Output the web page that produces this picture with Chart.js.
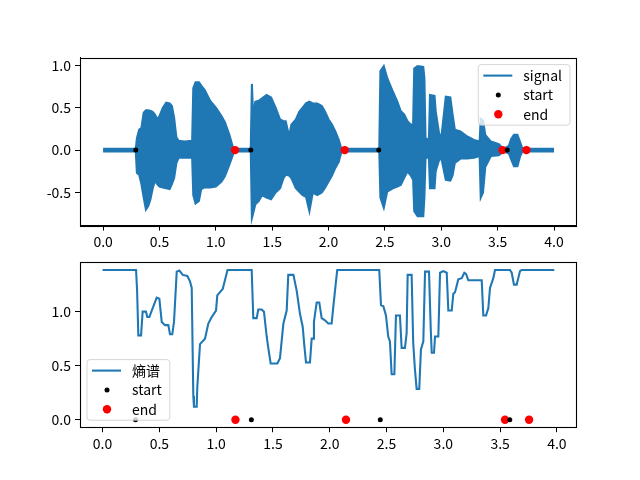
<!DOCTYPE html>
<html>
<head>
<meta charset="utf-8">
<script src="https://cdn.jsdelivr.net/npm/chart.js@4/dist/chart.umd.min.js"></script>
<style>
  html, body { margin: 0; padding: 0; background: #fff; }
  #wrap { position: relative; width: 640px; height: 480px; }
  canvas { position: absolute; left: 0; }
  #top { top: 0; }
  #bottom { top: 250px; }
</style>
</head>
<body>
<div id="wrap">
  <canvas id="top" width="640" height="250"></canvas>
  <canvas id="bottom" width="640" height="230"></canvas>
</div>
<script>
// signal envelope, seconds
const sigTime  = [0.00, 0.10, 0.20, 0.29, 0.30, 0.32, 0.34, 0.36, 0.38, 0.40, 0.42, 0.44, 0.46, 0.48, 0.50, 0.53, 0.56, 0.59, 0.61, 0.63, 0.65, 0.67, 0.72, 0.79,
                  0.80, 0.82, 0.85, 0.87, 0.90, 0.95, 1.00, 1.05, 1.08, 1.12, 1.15, 1.16, 1.25, 1.31,
                  1.32, 1.33, 1.35, 1.38, 1.41, 1.45, 1.49, 1.53, 1.57, 1.60, 1.62, 1.65, 1.67, 1.71, 1.74, 1.77, 1.80, 1.83, 1.86, 1.90, 1.94, 1.97, 2.00, 2.03, 2.06, 2.09, 2.11, 2.12, 2.30, 2.45,
                  2.46, 2.49, 2.52, 2.57, 2.61, 2.64, 2.67, 2.70, 2.73, 2.75, 2.76, 2.79, 2.84, 2.85, 2.86, 2.89, 2.90, 2.94, 2.95, 2.98, 3.00, 3.04, 3.08, 3.10, 3.12, 3.17, 3.23, 3.29, 3.34,
                  3.35, 3.37, 3.39, 3.44, 3.51, 3.55, 3.60, 3.62, 3.645, 3.675, 3.70, 3.72, 3.85, 4.00];
const sigUpper = [0.015, 0.015, 0.015, 0.015, 0.14, 0.24, 0.26, 0.44, 0.47, 0.47, 0.46, 0.45, 0.42, 0.36, 0.40, 0.50, 0.56, 0.55, 0.52, 0.38, 0.15, 0.11, 0.10, 0.11,
                  0.73, 0.80, 0.80, 0.76, 0.71, 0.58, 0.50, 0.40, 0.33, 0.18, 0.04, 0.015, 0.015, 0.015,
                  0.78, 0.40, 0.57, 0.58, 0.61, 0.65, 0.62, 0.50, 0.36, 0.34, 0.34, 0.16, 0.30, 0.36, 0.45, 0.50, 0.55, 0.57, 0.55, 0.55, 0.52, 0.45, 0.36, 0.30, 0.22, 0.12, 0.03, 0.015, 0.015, 0.015,
                  0.93, 0.99, 0.85, 0.69, 0.57, 0.46, 0.42, 0.34, 0.30, 0.30, 0.96, 0.99, 0.98, 0.85, 0.14, 0.12, 0.65, 0.64, 0.46, 0.20, 0.14, 0.63, 0.62, 0.42, 0.24, 0.22, 0.16, 0.12, 0.10,
                  0.37, 0.35, 0.18, 0.10, 0.07, 0.015, 0.05, 0.13, 0.18, 0.18, 0.09, 0.015, 0.015, 0.015];
const sigLower = [-0.015, -0.015, -0.015, -0.015, -0.27, -0.29, -0.40, -0.56, -0.70, -0.66, -0.58, -0.45, -0.36, -0.40, -0.43, -0.44, -0.45, -0.46, -0.40, -0.33, -0.15, -0.09, -0.09, -0.09,
                  -0.53, -0.63, -0.60, -0.46, -0.44, -0.44, -0.43, -0.37, -0.31, -0.17, -0.06, -0.015, -0.015, -0.015,
                  -0.80, -0.75, -0.64, -0.60, -0.53, -0.56, -0.58, -0.50, -0.45, -0.33, -0.29, -0.30, -0.33, -0.45, -0.49, -0.53, -0.55, -0.72, -0.50, -0.53, -0.50, -0.44, -0.37, -0.30, -0.21, -0.14, -0.04, -0.015, -0.015, -0.015,
                  -0.56, -0.68, -0.49, -0.45, -0.43, -0.41, -0.33, -0.25, -0.30, -0.35, -0.72, -0.78, -0.78, -0.56, -0.09, -0.09, -0.45, -0.45, -0.25, -0.12, -0.09, -0.35, -0.36, -0.30, -0.15, -0.10, -0.10, -0.09, -0.07,
                  -0.56, -0.50, -0.20, -0.07, -0.06, -0.015, -0.04, -0.11, -0.19, -0.19, -0.07, -0.015, -0.015, -0.015];

// entropy spectrum
const entTime  = [0.000, 0.295, 0.304, 0.315, 0.339, 0.353, 0.382, 0.394, 0.412, 0.433, 0.477, 0.500, 0.521, 0.550, 0.579, 0.594, 0.614, 0.629, 0.653, 0.676, 0.706, 0.746, 0.770, 0.785,
                  0.799, 0.805, 0.829, 0.834, 0.858, 0.902, 0.931, 0.961, 0.999, 1.010, 1.034, 1.058, 1.100, 1.313, 1.327, 1.357, 1.371, 1.401, 1.421, 1.445, 1.459, 1.480, 1.539, 1.562,
                  1.592, 1.621, 1.635, 1.680, 1.709, 1.738, 1.762, 1.776, 1.791, 1.826, 1.841, 1.855, 1.861, 1.885, 1.908, 1.929, 1.958, 1.987, 2.017, 2.031, 2.046, 2.066, 2.436, 2.451,
                  2.472, 2.495, 2.515, 2.530, 2.545, 2.569, 2.583, 2.618, 2.633, 2.662, 2.677, 2.686, 2.721, 2.735, 2.750, 2.765, 2.788, 2.803, 2.824, 2.839, 2.874, 2.889, 2.898, 2.918,
                  2.927, 2.956, 2.971, 3.000, 3.030, 3.044, 3.074, 3.088, 3.103, 3.132, 3.162, 3.185, 3.200, 3.220, 3.338, 3.352, 3.376, 3.396, 3.411, 3.440, 3.455, 3.587, 3.602, 3.622,
                  3.646, 3.675, 3.690, 3.977];
const entValue = [1.386, 1.386, 1.20, 0.78, 0.78, 1.00, 1.00, 0.95, 0.95, 1.01, 1.13, 1.12, 0.905, 0.875, 0.875, 0.79, 0.79, 0.905, 1.37, 1.38, 1.34, 1.33, 1.28, 1.22,
                  0.22, 0.12, 0.12, 0.30, 0.70, 0.75, 0.89, 0.95, 1.01, 1.15, 1.18, 1.21, 1.386, 1.386, 0.94, 0.94, 1.02, 1.02, 1.00, 0.77, 0.665, 0.52, 0.52, 0.57,
                  0.89, 1.01, 1.34, 1.34, 1.195, 0.98, 0.86, 0.69, 0.53, 0.53, 0.75, 0.75, 0.905, 1.085, 1.085, 0.94, 0.92, 0.89, 0.89, 1.04, 1.19, 1.386, 1.386, 1.06,
                  1.05, 0.965, 0.77, 0.725, 0.42, 0.42, 0.965, 0.965, 0.665, 0.665, 0.80, 1.34, 1.34, 0.71, 0.465, 0.285, 0.285, 0.65, 0.725, 1.37, 1.37, 0.845, 0.62, 0.62,
                  0.77, 0.77, 1.36, 1.375, 1.36, 1.01, 1.01, 1.165, 1.18, 1.30, 1.31, 1.36, 1.35, 1.29, 1.29, 0.965, 0.965, 1.03, 1.22, 1.31, 1.386, 1.386, 1.36, 1.25,
                  1.25, 1.375, 1.386, 1.386];

const startTimes = [0.29, 1.31, 2.445, 3.585];
const endTimes   = [1.17, 2.143, 3.543, 3.755];

const xTicks = [0, 0.5, 1, 1.5, 2, 2.5, 3, 3.5, 4];
const yTicksTop = [-0.5, 0, 0.5, 1];
const yTicksBottom = [0, 0.5, 1];

const BLUE = '#1f77b4';
const LW = 2.08; // 1.5pt at 100 dpi
const FONT = "'Noto Sans CJK SC', 'DejaVu Sans', sans-serif";

Chart.defaults.font.family = FONT;
Chart.defaults.font.size = 14;
Chart.defaults.color = '#000';

// frame on all four sides + matplotlib style legend inside the axes
const frameLegend = {
  id: 'frameLegend',
  afterDatasetsDraw(chart, args, opts) {
    const { ctx, chartArea: a } = chart;
    ctx.save();
    ctx.strokeStyle = '#000';
    ctx.lineWidth = 1.1;
    ctx.strokeRect(Math.round(a.left) + 0.5, Math.round(a.top) + 0.5, Math.round(a.right - a.left), Math.round(a.bottom - a.top));

    const items = chart.data.datasets.filter(d => d.label);
    ctx.font = '14px ' + FONT;
    const textW = Math.max(...items.map(d => ctx.measureText(d.label).width));
    const w = 45 + textW + 8;
    const rowH = 19.3;
    const h = 22 + (items.length - 1) * rowH;
    const x = opts.corner === 'ur' ? a.right - 6 - w : a.left + 7;
    const y = opts.corner === 'ur' ? a.top + 7 : a.bottom - 7 - h;

    ctx.beginPath();
    ctx.roundRect(x, y, w, h, 3);
    ctx.fillStyle = 'rgba(255,255,255,0.8)';
    ctx.fill();
    ctx.lineWidth = 1;
    ctx.strokeStyle = 'rgba(204,204,204,0.8)';
    ctx.stroke();

    items.forEach((d, i) => {
      const cy = y + 11 + i * rowH;
      if (d.showLine === false) {
        ctx.beginPath();
        ctx.arc(x + 20, cy, d.pointRadius, 0, Math.PI * 2);
        ctx.fillStyle = d.pointBackgroundColor;
        ctx.fill();
      } else {
        ctx.beginPath();
        ctx.moveTo(x + 5, cy);
        ctx.lineTo(x + 34, cy);
        ctx.strokeStyle = d.borderColor;
        ctx.lineWidth = LW;
        ctx.stroke();
      }
      ctx.fillStyle = '#000';
      ctx.textAlign = 'left';
      ctx.textBaseline = 'middle';
      ctx.fillText(d.label, x + 45, cy);
    });
    ctx.restore();
  }
};

function axes(xMin, xMax, yMin, yMax, yTicks, xHeight) {
  const tickStyle = { drawOnChartArea: false, drawTicks: true, tickLength: 5, tickColor: '#000', tickWidth: 1 };
  return {
    x: {
      type: 'linear', min: xMin, max: xMax,
      grid: tickStyle,
      border: { display: true, color: '#000', width: 1 },
      ticks: { padding: 3, maxRotation: 0, callback: v => v.toFixed(1) },
      afterBuildTicks: s => { s.ticks = xTicks.map(v => ({ value: v })); },
      afterFit: s => { s.height = xHeight; }
    },
    y: {
      type: 'linear', min: yMin, max: yMax,
      grid: tickStyle,
      border: { display: true, color: '#000', width: 1 },
      ticks: { padding: 4, callback: v => v.toFixed(1) },
      afterBuildTicks: s => { s.ticks = yTicks.map(v => ({ value: v })); },
      afterFit: s => { s.width = 80; }
    }
  };
}

function markerSets(yVal) {
  return [
    {
      label: 'start',
      data: startTimes.map(t => ({ x: t, y: yVal })),
      showLine: false, pointRadius: 2.5, pointBackgroundColor: '#000', pointBorderWidth: 0,
      order: 0
    },
    {
      label: 'end',
      data: endTimes.map(t => ({ x: t, y: yVal })),
      showLine: false, pointRadius: 4.2, pointBackgroundColor: '#ff0000', pointBorderWidth: 0,
      order: 1
    }
  ];
}

new Chart(document.getElementById('top'), {
  type: 'line',
  data: {
    datasets: [
      {
        label: 'signal',
        data: sigTime.map((t, i) => ({ x: t, y: sigUpper[i] })),
        borderColor: BLUE, borderWidth: LW, pointRadius: 0, fill: false, order: 2
      },
      {
        data: sigTime.map((t, i) => ({ x: t, y: sigLower[i] })),
        borderColor: BLUE, backgroundColor: BLUE, borderWidth: LW, pointRadius: 0, fill: '-1', order: 2
      },
      ...markerSets(0)
    ]
  },
  options: {
    responsive: false,
    animation: false,
    events: [],
    layout: { padding: { top: 57.6, right: 64, left: 0, bottom: 0 } },
    plugins: { legend: { display: false }, tooltip: { enabled: false }, frameLegend: { corner: 'ur' } },
    scales: axes(-0.205, 4.195, -0.89, 1.09, yTicksTop, 24.4)
  },
  plugins: [frameLegend]
});

new Chart(document.getElementById('bottom'), {
  type: 'line',
  data: {
    datasets: [
      {
        label: '熵谱',
        data: entTime.map((t, i) => ({ x: t, y: entValue[i] })),
        borderColor: BLUE, borderWidth: LW, pointRadius: 0, fill: false, tension: 0, order: 2
      },
      ...markerSets(0)
    ]
  },
  options: {
    responsive: false,
    animation: false,
    events: [],
    layout: { padding: { top: 9.2, right: 64, left: 0, bottom: 0 } },
    plugins: { legend: { display: false }, tooltip: { enabled: false }, frameLegend: { corner: 'll' } },
    scales: axes(-0.1985, 4.168, -0.0693, 1.4556, yTicksBottom, 52.8)
  },
  plugins: [frameLegend]
});
</script>
</body>
</html>
